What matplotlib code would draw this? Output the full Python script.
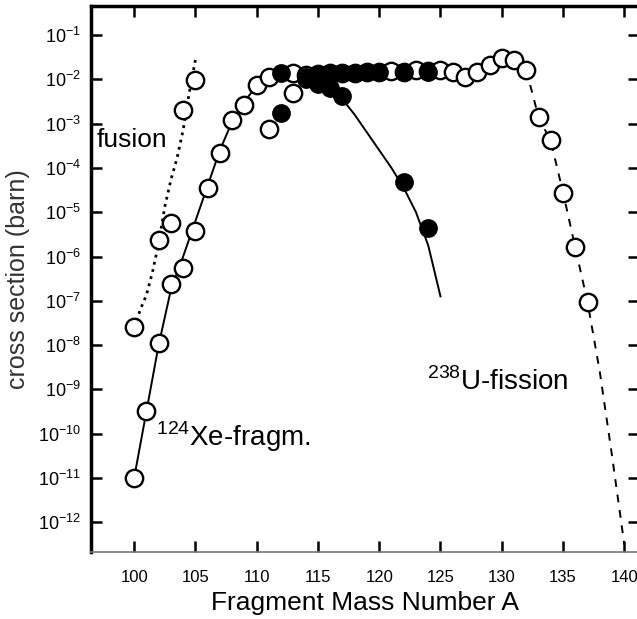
import numpy as np
import matplotlib
matplotlib.use('Agg')
import matplotlib.pyplot as plt
from matplotlib.ticker import FixedLocator, FuncFormatter

plt.rcParams['font.family'] = ['Liberation Sans', 'DejaVu Sans']
plt.rcParams['mathtext.fontset'] = 'custom'
plt.rcParams['mathtext.rm'] = 'Liberation Sans'

# 124Xe fragmentation data (open circles) - log10 of cross section
xe_A = [100, 101, 102, 103, 104, 105, 106, 107, 108, 109, 110, 111]
xe_log = [-11.0, -9.49, -7.95, -6.62, -6.26, -5.42, -4.45, -3.66, -2.92, -2.58, -2.13, -1.95]

# solid curve through the fragmentation data
xe_fit_A = [100, 101, 102, 103, 104, 105, 106, 107, 108, 109, 110, 111, 112, 113,
            114, 115, 116, 117, 118, 119, 120, 121, 122, 123, 124, 125]
xe_fit_log = [-11.0, -9.5, -8.0, -6.75, -6.0, -5.2, -4.4, -3.6, -2.95, -2.5, -2.15, -1.95,
              -1.85, -1.82, -1.85, -1.95, -2.15, -2.45, -2.8, -3.2, -3.6, -4.0, -4.45,
              -5.0, -5.75, -6.9]

# fusion data (open circles) and dotted curve
fus_A = [100, 102, 103, 104, 105]
fus_log = [-7.6, -5.63, -5.24, -2.69, -2.02]
fus_fit_A = [100.2, 100.5, 101, 101.5, 102, 102.5, 103, 103.5, 104, 104.5, 105]
fus_fit_log = [-7.45, -7.2, -6.87, -6.35, -5.7, -4.88, -4.27, -3.78, -3.14, -2.3, -1.56]

# 238U fission data (open circles)
fis_A = [113, 114, 115, 116, 117, 118, 119, 120, 121, 122, 123, 124, 125, 126, 127,
         128, 129, 130, 131, 132, 133, 134, 135, 136, 137]
fis_log = [-1.86, -1.9, -1.88, -1.86, -1.85, -1.85, -1.84, -1.84, -1.82, -1.84, -1.8, -1.82,
           -1.79, -1.84, -1.95, -1.84, -1.68, -1.52, -1.56, -1.79, -2.85, -3.37, -4.57,
           -5.79, -7.03]
# dashed curve on the falling side
fis_fit_A = [132, 133, 134, 135, 136, 137, 138, 139, 140]
fis_fit_log = [-1.79, -2.85, -3.4, -4.55, -5.8, -7.03, -8.6, -10.5, -12.5]

# filled circles: plateau and falling branch
fil_A = [112, 114, 115, 116, 117, 118, 119, 120, 122, 124,
         112, 114, 115, 116, 117, 122, 124]
fil_log = [-1.86, -1.95, -1.9, -1.88, -1.86, -1.85, -1.84, -1.84, -1.84, -1.84,
           -2.76, -2.0, -2.1, -2.2, -2.38, -4.32, -5.36]

# extra open circles near the maximum
ext_A = [111, 113]
ext_log = [-3.12, -2.31]

yticks = list(range(-12, 0))


def p(v):
    return np.power(10.0, v)


fig = plt.figure(figsize=(6.37, 6.19), dpi=100)
ax = fig.add_axes([91/637, 1 - 552/619, 548/637, 546/619])

ms = 12.5
mew = 1.7
ax.plot(xe_fit_A, p(np.array(xe_fit_log)), '-', color='black', lw=1.4, zorder=2)
ax.plot(fus_fit_A, p(np.array(fus_fit_log)), ':', color='black', lw=2, zorder=2)
ax.plot(fis_fit_A, p(np.array(fis_fit_log)), '--', color='black', lw=1.4,
        dashes=(4, 4), zorder=2)
ax.plot(xe_A, p(np.array(xe_log)), 'o', ms=ms, mfc='white', mec='black', mew=mew, zorder=3)
ax.plot(fus_A, p(np.array(fus_log)), 'o', ms=ms, mfc='white', mec='black', mew=mew, zorder=3)
ax.plot(fis_A, p(np.array(fis_log)), 'o', ms=ms, mfc='white', mec='black', mew=mew, zorder=3)
ax.plot(ext_A, p(np.array(ext_log)), 'o', ms=ms, mfc='white', mec='black', mew=mew, zorder=3)
ax.plot(fil_A, p(np.array(fil_log)), 'o', ms=ms, mfc='black', mec='black', zorder=4)

ax.set_yscale('log')
ax.set_xlim(96.48, 141.2)
ax.set_ylim(p(-12.67), p(-0.345))
ax.xaxis.set_major_locator(FixedLocator(range(100, 141, 5)))
ax.yaxis.set_major_locator(FixedLocator([p(v) for v in yticks]))
ax.yaxis.set_minor_locator(FixedLocator([]))
ax.yaxis.set_major_formatter(FuncFormatter(lambda v, pos: r'$10^{%d}$' % round(np.log10(v))))
ax.tick_params(axis='both', direction='in', length=8, width=1.8, top=True, right=True,
               colors='black')
ax.tick_params(axis='x', pad=13, labelsize=12)
ax.tick_params(axis='y', pad=7, labelsize=13)
for side in ['left', 'top']:
    ax.spines[side].set_linewidth(2.5)
ax.spines['bottom'].set_linewidth(1.2)
ax.spines['bottom'].set_color('#777777')

ax.set_xlabel('Fragment Mass Number A', fontsize=19, labelpad=4)
ax.set_ylabel('cross section (barn)', fontsize=18, labelpad=6, color='#333333')

ax.text(96.97, p(-3.37), 'fusion', fontsize=19, va='center')
ax.text(101.8, p(-10.07), r'$^{124}$Xe-fragm.', fontsize=20, va='center')
ax.text(123.9, p(-8.83), r'$^{238}$U-fission', fontsize=20, va='center')

fig.savefig('out.png', dpi=100)
